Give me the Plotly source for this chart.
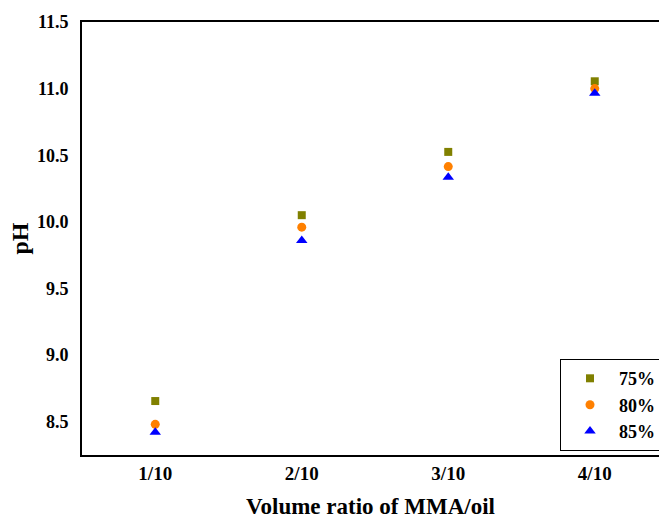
import plotly.graph_objects as go

categories = ["1/10", "2/10", "3/10", "4/10"]
x_pos = [1, 2, 3, 4]
ph_75 = [8.655, 10.05, 10.525, 11.055]
ph_80 = [8.48, 9.96, 10.415, 11.0]
ph_85 = [8.42, 9.86, 10.335, 10.965]
series_names = ["75%", "80%", "85%"]
y_ticks = [8.5, 9.0, 9.5, 10.0, 10.5, 11.0, 11.5]

font_family = "Liberation Serif"

fig = go.Figure()
fig.add_trace(go.Scatter(x=x_pos, y=ph_75, mode="markers", name=series_names[0],
                         marker=dict(symbol="square", size=8, color="#808000")))
fig.add_trace(go.Scatter(x=x_pos, y=ph_80, mode="markers", name=series_names[1],
                         marker=dict(symbol="circle", size=9, color="#FF8000")))
fig.add_trace(go.Scatter(x=x_pos, y=ph_85, mode="markers", name=series_names[2],
                         marker=dict(symbol="triangle-up", size=10, color="#0000FF")))

fig.update_layout(
    width=659, height=519,
    margin=dict(l=82, r=0, t=22, b=64, autoexpand=False),
    plot_bgcolor="white", paper_bgcolor="white",
    font=dict(family=font_family, color="black", size=17),
    showlegend=True,
    legend=dict(x=(560 - 82) / 577, y=0.009, xanchor="left", yanchor="bottom",
                bordercolor="black", borderwidth=1, bgcolor="white",
                font=dict(family=font_family, size=18, color="black", weight="bold"),
                itemwidth=48, tracegroupgap=0),
    xaxis=dict(
        range=[0.5, 0.5 + 577 / 146.5],
        tickmode="array", tickvals=x_pos, ticktext=categories,
        showgrid=False, zeroline=False,
        showline=True, linecolor="black", linewidth=2, mirror=True,
        ticks="",
        tickfont=dict(family=font_family, size=19, color="black", weight="bold"),
        title=dict(text="Volume ratio of MMA/oil", standoff=22,
                   font=dict(family=font_family, size=23, color="black", weight="bold")),
    ),
    yaxis=dict(
        range=[8.25, 11.5],
        tickmode="array", tickvals=y_ticks,
        tickformat=".1f",
        showgrid=False, zeroline=False,
        showline=True, linecolor="black", linewidth=2, mirror=False,
        ticks="", ticklabelstandoff=8,
        tickfont=dict(family=font_family, size=18, color="black", weight="bold"),
        title=dict(text="pH", standoff=2,
                   font=dict(family=font_family, size=24, color="black", weight="bold")),
    ),
)

fig.write_html("out.html")
